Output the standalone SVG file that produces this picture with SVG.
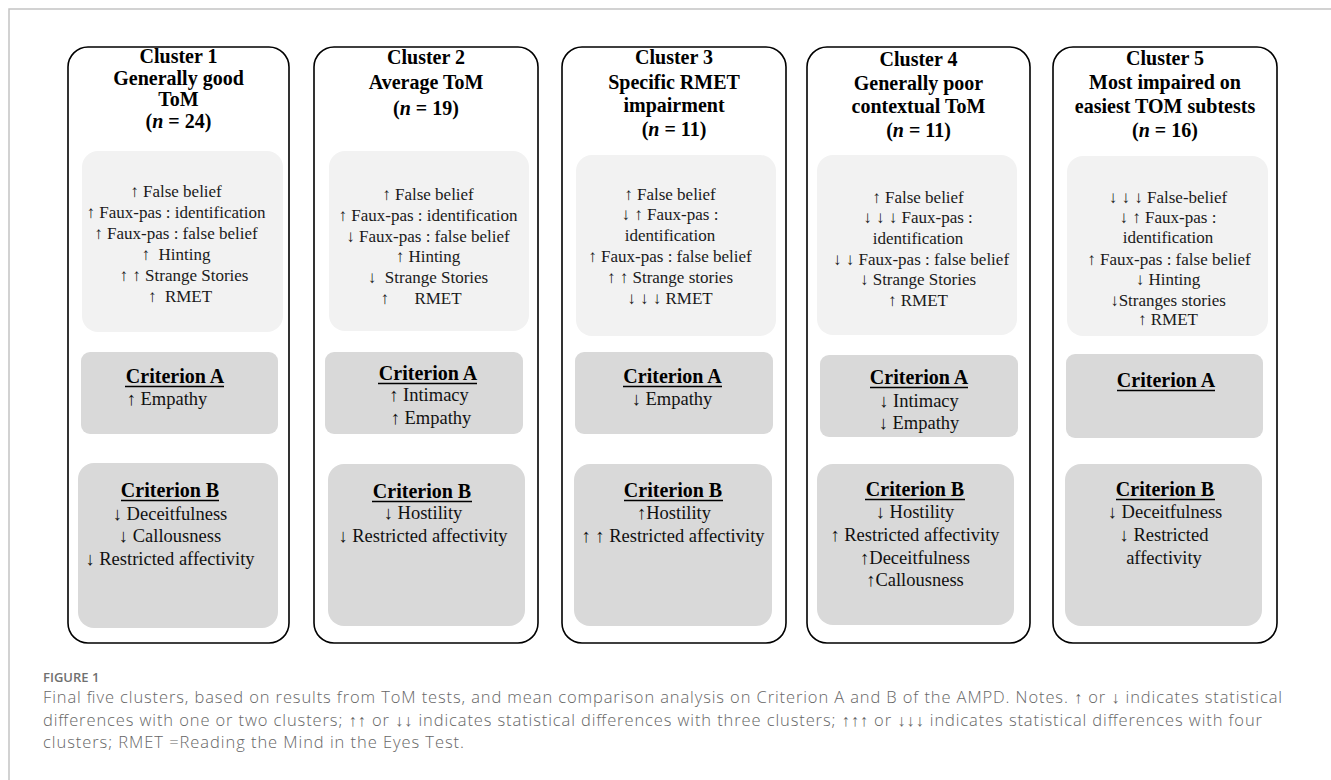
<svg xmlns="http://www.w3.org/2000/svg" width="1331" height="780" viewBox="0 0 1331 780">
<style>
.frame{fill:none;stroke:#c4c4c4;stroke-width:1.5}
.cl{fill:#fff;stroke:#000;stroke-width:1.6}
.tom{fill:#f2f2f2}
.crit{fill:#d9d9d9}
.ttl{font-family:"Liberation Serif","DejaVu Serif",serif;font-weight:bold;font-size:20px;fill:#000;text-anchor:middle}
.tb{font-family:"Liberation Serif","DejaVu Serif",serif;font-size:17px;fill:#1a1a1a;text-anchor:middle;white-space:pre}
.ch{font-family:"Liberation Serif","DejaVu Serif",serif;font-weight:bold;font-size:20px;fill:#000;text-anchor:middle}
.cb{font-family:"Liberation Serif","DejaVu Serif",serif;font-size:18.5px;fill:#111;text-anchor:middle;white-space:pre}
.ul{stroke:#000;stroke-width:1.6}
.fig{font-family:"Open Sans","Noto Sans",sans-serif;font-weight:600;font-size:13px;fill:#707070}
.cap{font-family:"Open Sans","Noto Sans",sans-serif;font-weight:300;font-size:16.5px;fill:#666}
</style>
<rect width="1331" height="780" fill="#fff"/>
<rect class="frame" x="9" y="9" width="1340" height="800"/>

<g id="cluster1">
<rect class="cl" x="68" y="47" width="221" height="596" rx="20"/>
<text class="ttl" x="178.5" y="63">Cluster 1</text>
<text class="ttl" x="178.5" y="84.5">Generally good</text>
<text class="ttl" x="178.5" y="106">ToM</text>
<text class="ttl" x="178.5" y="127.5">(<tspan font-style="italic">n</tspan> = 24)</text>
<rect class="tom" x="82" y="151" width="201" height="181" rx="16"/>
<text class="tb" x="176" y="197">↑ False belief</text>
<text class="tb" x="176" y="218">↑ Faux-pas : identification</text>
<text class="tb" x="176" y="239">↑ Faux-pas : false belief</text>
<text class="tb" x="176" y="260">↑  Hinting</text>
<text class="tb" x="184" y="281">↑ ↑ Strange Stories</text>
<text class="tb" x="180" y="302">↑  RMET</text>
<rect class="crit" x="81" y="352" width="197" height="82" rx="9"/>
<text class="ch" x="175" y="383">Criterion A</text>
<line class="ul" x1="125" y1="386.5" x2="224" y2="386.5"/>
<text class="cb" x="167" y="405">↑ Empathy</text>
<rect class="crit" x="78" y="463" width="200" height="165" rx="16"/>
<text class="ch" x="170" y="497">Criterion B</text>
<line class="ul" x1="121" y1="500.5" x2="219" y2="500.5"/>
<text class="cb" x="170" y="520">↓ Deceitfulness</text>
<text class="cb" x="170" y="542">↓ Callousness</text>
<text class="cb" x="170" y="565">↓ Restricted affectivity</text>
</g>

<g id="cluster2">
<rect class="cl" x="314" y="47" width="224" height="596" rx="20"/>
<text class="ttl" x="426" y="64">Cluster 2</text>
<text class="ttl" x="426" y="89">Average ToM</text>
<text class="ttl" x="426" y="115">(<tspan font-style="italic">n</tspan> = 19)</text>
<rect class="tom" x="329" y="151" width="200" height="180" rx="16"/>
<text class="tb" x="428" y="200">↑ False belief</text>
<text class="tb" x="428" y="221">↑ Faux-pas : identification</text>
<text class="tb" x="428" y="242">↓ Faux-pas : false belief</text>
<text class="tb" x="428" y="262">↑ Hinting</text>
<text class="tb" x="428" y="283">↓  Strange Stories</text>
<text class="tb" x="421" y="304">↑      RMET</text>
<rect class="crit" x="325" y="352" width="198" height="82" rx="9"/>
<text class="ch" x="428" y="380">Criterion A</text>
<line class="ul" x1="378" y1="383.5" x2="477" y2="383.5"/>
<text class="cb" x="429" y="401">↑ Intimacy</text>
<text class="cb" x="431" y="424">↑ Empathy</text>
<rect class="crit" x="328" y="464" width="197" height="162" rx="16"/>
<text class="ch" x="422" y="498">Criterion B</text>
<line class="ul" x1="372" y1="501.5" x2="472" y2="501.5"/>
<text class="cb" x="423" y="519">↓ Hostility</text>
<text class="cb" x="423" y="542">↓ Restricted affectivity</text>
</g>

<g id="cluster3">
<rect class="cl" x="562" y="47" width="224" height="596" rx="20"/>
<text class="ttl" x="674" y="64">Cluster 3</text>
<text class="ttl" x="674" y="89">Specific RMET</text>
<text class="ttl" x="674" y="112">impairment</text>
<text class="ttl" x="674" y="136">(<tspan font-style="italic">n</tspan> = 11)</text>
<rect class="tom" x="576" y="155" width="200" height="181" rx="16"/>
<text class="tb" x="670" y="200">↑ False belief</text>
<text class="tb" x="670" y="220">↓ ↑ Faux-pas :</text>
<text class="tb" x="670" y="241">identification</text>
<text class="tb" x="670" y="262">↑ Faux-pas : false belief</text>
<text class="tb" x="670" y="283">↑ ↑ Strange stories</text>
<text class="tb" x="670" y="304">↓ ↓ ↓ RMET</text>
<rect class="crit" x="575" y="352" width="198" height="82" rx="9"/>
<text class="ch" x="672.5" y="383">Criterion A</text>
<line class="ul" x1="623" y1="386.5" x2="722" y2="386.5"/>
<text class="cb" x="672" y="405">↓ Empathy</text>
<rect class="crit" x="574" y="464" width="198" height="162" rx="16"/>
<text class="ch" x="673" y="497">Criterion B</text>
<line class="ul" x1="624" y1="500.5" x2="723" y2="500.5"/>
<text class="cb" x="674" y="519">↑Hostility</text>
<text class="cb" x="673" y="542">↑ ↑ Restricted affectivity</text>
</g>

<g id="cluster4">
<rect class="cl" x="807" y="47" width="223" height="596" rx="20"/>
<text class="ttl" x="918.5" y="66">Cluster 4</text>
<text class="ttl" x="918.5" y="90">Generally poor</text>
<text class="ttl" x="918.5" y="113">contextual ToM</text>
<text class="ttl" x="918.5" y="137">(<tspan font-style="italic">n</tspan> = 11)</text>
<rect class="tom" x="817" y="155" width="200" height="180" rx="16"/>
<text class="tb" x="918" y="203">↑ False belief</text>
<text class="tb" x="918" y="223">↓ ↓ ↓ Faux-pas :</text>
<text class="tb" x="918" y="244">identification</text>
<text class="tb" x="921" y="265">↓ ↓ Faux-pas : false belief</text>
<text class="tb" x="918" y="285">↓ Strange Stories</text>
<text class="tb" x="918" y="306">↑ RMET</text>
<rect class="crit" x="820" y="355" width="198" height="82" rx="9"/>
<text class="ch" x="919" y="384">Criterion A</text>
<line class="ul" x1="870" y1="387.5" x2="968" y2="387.5"/>
<text class="cb" x="919" y="407">↓ Intimacy</text>
<text class="cb" x="919" y="429">↓ Empathy</text>
<rect class="crit" x="817" y="464" width="197" height="161" rx="16"/>
<text class="ch" x="915" y="496">Criterion B</text>
<line class="ul" x1="865" y1="499.5" x2="965" y2="499.5"/>
<text class="cb" x="915" y="518">↓ Hostility</text>
<text class="cb" x="915" y="541">↑ Restricted affectivity</text>
<text class="cb" x="915" y="564">↑Deceitfulness</text>
<text class="cb" x="915" y="586">↑Callousness</text>
</g>

<g id="cluster5">
<rect class="cl" x="1053" y="47" width="224" height="596" rx="20"/>
<text class="ttl" x="1165" y="65">Cluster 5</text>
<text class="ttl" x="1165" y="89">Most impaired on</text>
<text class="ttl" x="1165" y="113">easiest TOM subtests</text>
<text class="ttl" x="1165" y="137">(<tspan font-style="italic">n</tspan> = 16)</text>
<rect class="tom" x="1067" y="156" width="201" height="180" rx="16"/>
<text class="tb" x="1168" y="203">↓ ↓ ↓ False-belief</text>
<text class="tb" x="1168" y="223">↓ ↑ Faux-pas :</text>
<text class="tb" x="1168" y="243">identification</text>
<text class="tb" x="1169" y="265">↑ Faux-pas : false belief</text>
<text class="tb" x="1168" y="285">↓ Hinting</text>
<text class="tb" x="1168" y="306">↓Stranges stories</text>
<text class="tb" x="1168" y="325">↑ RMET</text>
<rect class="crit" x="1066" y="354" width="197" height="84" rx="9"/>
<text class="ch" x="1166" y="387">Criterion A</text>
<line class="ul" x1="1117" y1="390.5" x2="1215" y2="390.5"/>
<rect class="crit" x="1065" y="464" width="197" height="162" rx="16"/>
<text class="ch" x="1165" y="496">Criterion B</text>
<line class="ul" x1="1116" y1="499.5" x2="1215" y2="499.5"/>
<text class="cb" x="1165" y="518">↓ Deceitfulness</text>
<text class="cb" x="1164" y="541">↓ Restricted</text>
<text class="cb" x="1164" y="564">affectivity</text>
</g>

<g id="caption">
<text class="fig" x="43" y="682">FIGURE 1</text>
<text class="cap" x="43" y="703" textLength="1239" lengthAdjust="spacing">Final five clusters, based on results from ToM tests, and mean comparison analysis on Criterion A and B of the AMPD. Notes. ↑ or ↓ indicates statistical</text>
<text class="cap" x="43" y="726" textLength="1219" lengthAdjust="spacing">differences with one or two clusters; ↑↑ or ↓↓ indicates statistical differences with three clusters; ↑↑↑ or ↓↓↓ indicates statistical differences with four</text>
<text class="cap" x="43" y="748" textLength="421" lengthAdjust="spacing">clusters; RMET =Reading the Mind in the Eyes Test.</text>
</g>
</svg>
